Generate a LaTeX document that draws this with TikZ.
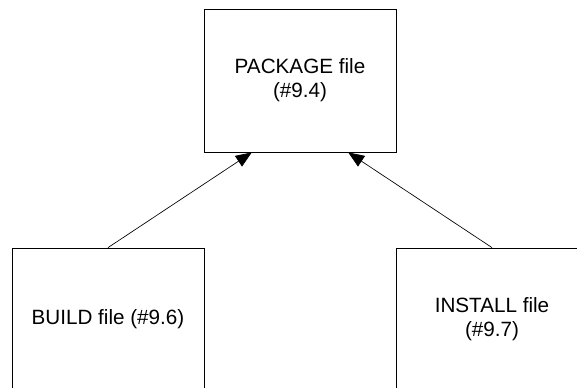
\documentclass[tikz,border=0pt]{standalone}
\usepackage{fontspec}
\setmainfont{Liberation Sans}
\usepackage{tikz}
\usetikzlibrary{arrows.meta,positioning,calc}
\tikzset{
  filebox/.style={draw=black,fill=white,line width=0.6pt,align=center,font=\fontsize{15.5}{18}\selectfont,minimum width=144pt,minimum height=107.25pt,inner sep=0pt},
  ar/.style={-{Triangle[length=12pt,width=9.5pt]},draw=black,line width=0.5pt},
}
\begin{document}
\begin{tikzpicture}[x=0.75pt,y=-0.75pt]
  \useasboundingbox (0,0) rectangle (577,387);
  \clip (0,0) rectangle (577,387);
  \node[filebox] (pkg) at (300,80.5) {PACKAGE file\\(\#9.4)};
  \node[filebox] (build) at (108,319.5) {BUILD file (\#9.6)};
  \node[filebox] (install) at (492,319.5) {INSTALL file\\(\#9.7)};
  \coordinate (pkgl) at ($(pkg.south west)!0.25!(pkg.south east)$);
  \coordinate (pkgr) at ($(pkg.south west)!0.75!(pkg.south east)$);
  \draw[ar] (build.north) -- (pkgl);
  \draw[ar] (install.north) -- (pkgr);
\end{tikzpicture}
\end{document}
